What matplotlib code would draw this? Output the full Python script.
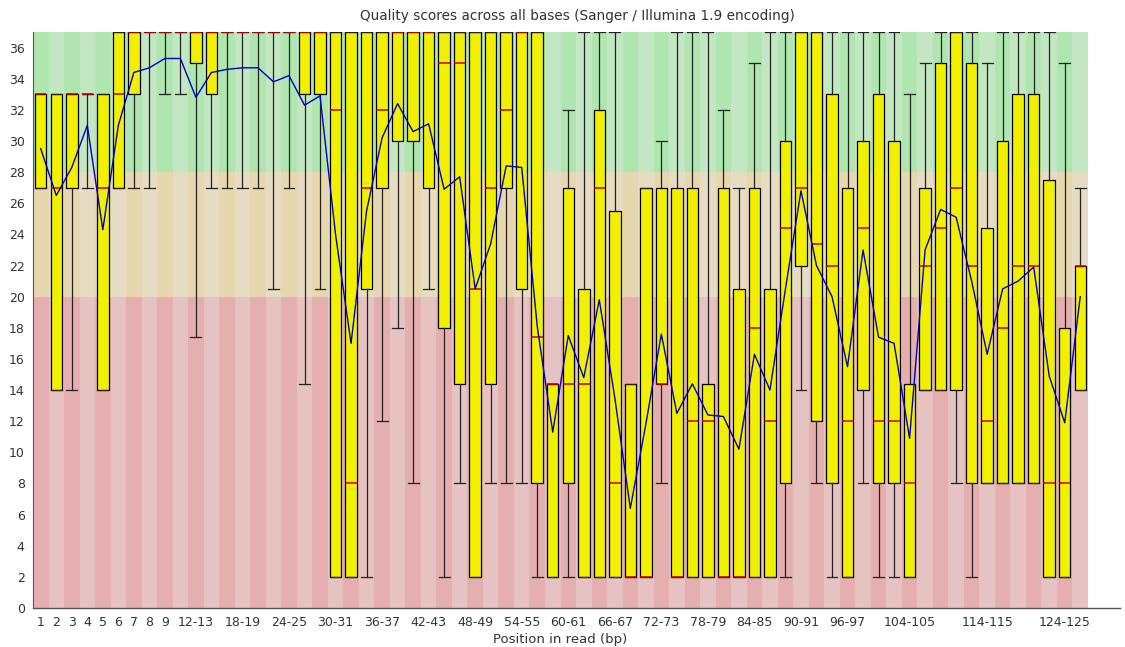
import matplotlib.pyplot as plt
from matplotlib.lines import Line2D

# position groups on the x axis (1..9 single bases, then pairs)
groups = [str(i) for i in range(1, 10)] + ["%d-%d" % (i, i + 1) for i in range(10, 127, 2)]
shown_labels = ["1", "2", "3", "4", "5", "6", "7", "8", "9", "12-13", "18-19", "24-25",
                "30-31", "36-37", "42-43", "48-49", "54-55", "60-61", "66-67", "72-73",
                "78-79", "84-85", "90-91", "96-97", "104-105", "114-115", "124-125"]

# 10th percentile (lower whisker)
whis_lo = [27, 14, 14, 27, 14, 27, 27, 27, 33, 33, 17.4, 27, 27, 27, 27, 20.5, 27, 14.4, 20.5, 2,
           2, 2, 12, 18, 8, 20.5, 2, 8, 2, 8, 8, 8, 2, 2, 2, 2, 2, 2, 2, 2,
           8, 2, 2, 2, 2, 2, 2, 2, 2, 14, 8, 2, 2, 8, 2, 2, 2, 14, 14, 8,
           2, 8, 8, 8, 8, 2, 2, 14]
# lower quartile
q1 = [27, 14, 27, 33, 14, 27, 33, 37, 37, 37, 35, 33, 37, 37, 37, 37, 37, 33, 33, 2,
      2, 20.5, 27, 30, 30, 27, 18, 14.4, 2, 14.4, 27, 20.5, 8, 2, 8, 2, 2, 2, 2, 2,
      14.4, 2, 2, 2, 2, 2, 2, 2, 8, 22, 12, 8, 2, 14, 8, 8, 2, 14, 14, 14,
      8, 8, 8, 8, 8, 2, 2, 14]
# median
med = [33, 27, 33, 33, 27, 33, 37, 37, 37, 37, 37, 37, 37, 37, 37, 37, 37, 37, 37, 32,
       8, 27, 32, 37, 37, 37, 35, 35, 20.5, 27, 32, 37, 17.4, 14.4, 14.4, 14.4, 27, 8, 2, 2,
       14.4, 2, 12, 12, 2, 2, 18, 12, 24.4, 27, 23.4, 22, 12, 24.4, 12, 12, 8, 22, 24.4, 27,
       22, 12, 18, 22, 22, 8, 8, 22]
# upper quartile
q3 = [33, 33, 33, 33, 33, 37, 37, 37, 37, 37, 37, 37, 37, 37, 37, 37, 37, 37, 37, 37,
      37, 37, 37, 37, 37, 37, 37, 37, 37, 37, 37, 37, 37, 14.4, 27, 20.5, 32, 25.5, 14.4, 27,
      27, 27, 27, 14.4, 27, 20.5, 27, 20.5, 30, 37, 37, 33, 27, 30, 33, 30, 14.4, 27, 35, 37,
      35, 24.4, 30, 33, 33, 27.5, 18, 22]
# 90th percentile (upper whisker)
whis_hi = [33, 33, 33, 33, 33, 37, 37, 37, 37, 37, 37, 37, 37, 37, 37, 37, 37, 37, 37, 37,
           37, 37, 37, 37, 37, 37, 37, 37, 37, 37, 37, 37, 37, 14.4, 32, 37, 37, 37, 14.4, 27,
           30, 37, 37, 37, 32, 27, 35, 37, 37, 37, 37, 37, 37, 37, 37, 37, 33, 35, 37, 37,
           37, 35, 37, 37, 37, 37, 35, 27]
# mean quality
mean = [29.5, 26.5, 28.3, 31.0, 24.3, 31.0, 34.4, 34.7, 35.3, 35.3, 32.8, 34.4, 34.6, 34.7, 34.7,
        33.8, 34.2, 32.3, 32.9, 24.0, 17.0, 25.5, 30.2, 32.4, 30.6, 31.1, 26.9, 27.7, 20.5, 23.4,
        28.4, 28.3, 18.1, 11.3, 17.5, 14.8, 19.8, 13.5, 6.4, 11.8, 17.6, 12.5, 14.4, 12.4, 12.3,
        10.2, 16.3, 14.0, 20.5, 26.8, 22.0, 20.0, 15.5, 23.0, 17.4, 17.0, 10.9, 23.0, 25.6, 25.1,
        21.0, 16.3, 20.5, 21.0, 21.9, 14.9, 11.9, 20.0]

y_max = 37
good_min = 28
poor_min = 20

x = list(range(1, len(groups) + 1))

fig = plt.figure(figsize=(11.25, 6.47), dpi=100)
ax = fig.add_axes([33 / 1125, 39 / 647, 1055 / 1125, 576 / 647])

# striped background: green / orange / red bands, alternating shades per column
green = [(175/255, 230/255, 175/255) if i % 2 == 0 else (195/255, 230/255, 195/255) for i in range(len(x))]
orange = [(230/255, 215/255, 175/255) if i % 2 == 0 else (230/255, 220/255, 195/255) for i in range(len(x))]
red = [(230/255, 175/255, 175/255) if i % 2 == 0 else (230/255, 195/255, 195/255) for i in range(len(x))]
ax.bar(x, y_max - good_min, bottom=good_min, width=1.0, color=green, zorder=0)
ax.bar(x, good_min - poor_min, bottom=poor_min, width=1.0, color=orange, zorder=0)
ax.bar(x, poor_min, bottom=0, width=1.0, color=red, zorder=0)

stats = []
for i in range(len(x)):
    stats.append({"med": med[i], "q1": q1[i], "q3": q3[i],
                  "whislo": whis_lo[i], "whishi": whis_hi[i], "fliers": []})

ax.bxp(stats, positions=x, widths=0.74, capwidths=0.7, patch_artist=True, showfliers=False,
       boxprops=dict(facecolor=(240/255, 240/255, 0), edgecolor="black", linewidth=0.9),
       whiskerprops=dict(color="#222222", linewidth=0.9),
       capprops=dict(color="#222222", linewidth=0.9),
       medianprops=dict(color=(200/255, 0, 0), linewidth=1.1))

ax.plot(x, mean, color=(0, 0, 200/255), linewidth=1.0, zorder=3)

ax.set_xlim(0.5, len(x) + 0.5)
ax.set_ylim(0, y_max)
ax.set_yticks(range(0, 37, 2))
ax.set_xticks([groups.index(l) + 1 for l in shown_labels])
ax.set_xticklabels(shown_labels)
ax.tick_params(axis="both", length=0, labelsize=9, colors="#333333")
ax.tick_params(axis="x", pad=6)
ax.tick_params(axis="y", pad=6)
for s in ["top", "right", "bottom"]:
    ax.spines[s].set_visible(False)
ax.spines["left"].set_color("#555555")

fig.add_artist(Line2D([33 / 1125, 1120 / 1125], [39 / 647, 39 / 647],
                      transform=fig.transFigure, color="#555555", linewidth=1.0))

fig.text(0.513, 0.975, "Quality scores across all bases (Sanger / Illumina 1.9 encoding)",
         ha="center", va="center", fontsize=9.8, color="#333333")
fig.text(560 / 1125, 0.012, "Position in read (bp)", ha="center", va="center",
         fontsize=9.5, color="#333333")

fig.savefig("out.png", dpi=100)
